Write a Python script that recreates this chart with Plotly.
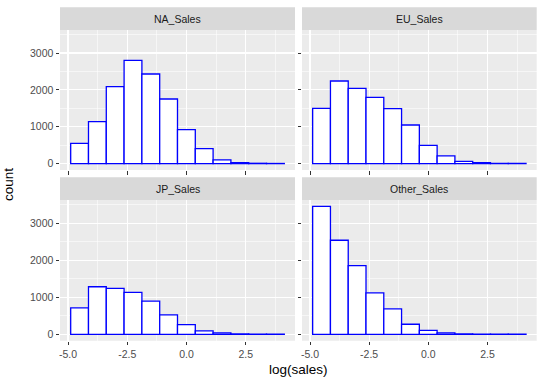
import plotly.graph_objects as go

# ---- data ----
panels = ["NA_Sales", "EU_Sales", "JP_Sales", "Other_Sales"]
bin_start = -4.887
bin_width = 0.7515
n_bins = 12
bin_centers = [round(bin_start + bin_width * (i + 0.5), 4) for i in range(n_bins)]

na_counts = [551, 1139, 2087, 2801, 2431, 1753, 922, 407, 99, 27, 9, 4]
eu_counts = [1500, 2241, 2042, 1798, 1491, 1048, 497, 208, 63, 27, 9, 4]
jp_counts = [714, 1283, 1238, 1130, 895, 524, 262, 90, 36, 9, 5, 3]
other_counts = [3452, 2539, 1852, 1120, 687, 271, 108, 36, 9, 5, 3, 2]
counts = [na_counts, eu_counts, jp_counts, other_counts]

x_ticks = [-5.0, -2.5, 0.0, 2.5]
y_ticks = [0, 1000, 2000, 3000]

W, H = 544, 385
FONT = "Liberation Sans, Arial, sans-serif"

# panel geometry in pixels (left, right, top, bottom)
cols = [(60, 295), (302, 536.7)]
rows = [(30, 170), (200, 340.7)]
strip_h = 22.7

fig = go.Figure()
xr = [-5.338, 4.582]
yr = [-173, 3625]

for i, name in enumerate(panels):
    r, c = divmod(i, 2)
    xa = "x" if i == 0 else f"x{i+1}"
    ya = "y" if i == 0 else f"y{i+1}"
    fig.add_trace(go.Bar(
        x=bin_centers, y=counts[i], width=bin_width,
        marker=dict(color="white", line=dict(color="blue", width=1.3)),
        xaxis=xa, yaxis=ya, showlegend=False, hoverinfo="skip",
    ))
    (l, rr), (t, b) = cols[c], rows[r]
    xkey = "xaxis" if i == 0 else f"xaxis{i+1}"
    ykey = "yaxis" if i == 0 else f"yaxis{i+1}"
    fig.layout[xkey] = dict(
        domain=[l / W, rr / W], range=xr, anchor=ya, automargin=False,
        tickvals=x_ticks, ticktext=[f"{v:.1f}" for v in x_ticks],
        showticklabels=(r == 1), ticks="outside", ticklen=3.5, tickwidth=1,
        tickcolor="#333333", showgrid=True, gridcolor="white", gridwidth=1.1,
        minor=dict(tickvals=[-3.75, -1.25, 1.25, 3.75], showgrid=True,
                   gridcolor="white", gridwidth=0.55, ticks=""),
        zeroline=False, showline=False,
        tickfont=dict(family=FONT, size=10.5, color="#4D4D4D"),
        fixedrange=True,
    )
    fig.layout[ykey] = dict(
        domain=[1 - b / H, 1 - t / H], range=yr, anchor=xa, automargin=False,
        tickvals=y_ticks, showticklabels=(c == 0), ticks="outside",
        ticklen=3.5, tickwidth=1, tickcolor="#333333",
        showgrid=True, gridcolor="white", gridwidth=1.1,
        minor=dict(tickvals=[500, 1500, 2500, 3500], showgrid=True,
                   gridcolor="white", gridwidth=0.55, ticks=""),
        zeroline=False, showline=False,
        tickfont=dict(family=FONT, size=10.5, color="#4D4D4D"),
        fixedrange=True,
    )
    # panel background
    fig.add_shape(type="rect", xref="paper", yref="paper",
                  x0=l / W, x1=rr / W, y0=1 - b / H, y1=1 - t / H,
                  fillcolor="#EBEBEB", line=dict(width=0), layer="below")
    # strip
    fig.add_shape(type="rect", xref="paper", yref="paper",
                  x0=l / W, x1=rr / W, y0=1 - t / H, y1=1 - (t - strip_h) / H,
                  fillcolor="#D9D9D9", line=dict(width=0), layer="below")
    fig.add_annotation(text=name, xref="paper", yref="paper",
                       x=(l + rr) / 2 / W, y=1 - (t - strip_h / 2) / H,
                       showarrow=False, xanchor="center", yanchor="middle",
                       font=dict(family=FONT, size=10.5, color="#1A1A1A"))

fig.add_annotation(text="count", xref="paper", yref="paper",
                   x=8 / W, y=1 - 185 / H, textangle=-90, showarrow=False,
                   xanchor="center", yanchor="middle",
                   font=dict(family=FONT, size=13.5, color="black"))
fig.add_annotation(text="log(sales)", xref="paper", yref="paper",
                   x=298 / W, y=1 - 369 / H, showarrow=False,
                   xanchor="center", yanchor="middle",
                   font=dict(family=FONT, size=13.5, color="black"))

fig.update_layout(
    width=W, height=H, margin=dict(l=0, r=0, t=0, b=0),
    paper_bgcolor="white", plot_bgcolor="rgba(0,0,0,0)",
    bargap=0, barmode="overlay", hovermode=False,
)

fig.write_html(
    "out.html",
    config={"displayModeBar": False, "staticPlot": True},
    post_script="document.body.style.margin='0';document.body.style.padding='0';"
                "document.body.style.overflow='hidden';",
)
